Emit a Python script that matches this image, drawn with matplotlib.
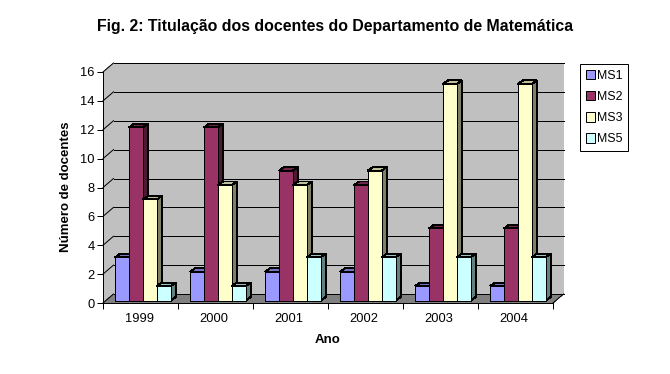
import matplotlib
matplotlib.use('Agg')
import matplotlib.pyplot as plt
from matplotlib.patches import Polygon, Patch

anos = ['1999', '2000', '2001', '2002', '2003', '2004']
ms1 = [3, 2, 2, 2, 1, 1]
ms2 = [12, 12, 9, 8, 5, 5]
ms3 = [7, 8, 8, 9, 15, 15]
ms5 = [1, 1, 3, 3, 3, 3]
series_names = ['MS1', 'MS2', 'MS3', 'MS5']
series_values = [ms1, ms2, ms3, ms5]

# front, top, side shades of each series
front_colors = ['#9999FF', '#993366', '#FFFFCC', '#CCFFFF']
top_colors = ['#7373BF', '#73264D', '#BFBF99', '#99BFBF']
side_colors = ['#666699', '#4D1A33', '#808066', '#668080']

plt.rcParams['font.family'] = ['Liberation Sans', 'DejaVu Sans']

W, H = 670, 374
LW = 0.72  # one pixel at dpi 100
fig = plt.figure(figsize=(W / 100, H / 100), dpi=100)
left, right, top, bottom = 103, 553, 72, 303
ax = fig.add_axes([left / W, 1 - bottom / H, (right - left) / W, (bottom - top) / H])
ax.set_xlim(0, 6)
ax.set_ylim(0, 16)
ax.patch.set_visible(False)

px_x = 6 / (right - left)
px_y = 16 / (bottom - top)
# wall depth and bar depth, in data units
dx, dy = 10.5 * px_x, 9 * px_y
bar_dx, bar_dy = 5 * px_x, 3.5 * px_y
lift = 2.5 * px_y
shift = 2.5 * px_x
bar_w = 13.9 * px_x


def poly(points, face, edge='black', z=1):
    ax.add_patch(Polygon(points, closed=True, facecolor=face, edgecolor=edge, linewidth=LW,
                         zorder=z, clip_on=False, antialiased=False))


def line(xs, ys, z, smooth=False):
    ax.plot(xs, ys, color='black', lw=LW, zorder=z, clip_on=False, antialiased=smooth)


# walls and floor
poly([(0, 0), (dx, dy), (dx, 16 + dy), (0, 16)], '#C0C0C0', edge='none', z=1)
poly([(dx, dy), (6 + dx, dy), (6 + dx, 16 + dy), (dx, 16 + dy)], '#C0C0C0', edge='none', z=1)
poly([(0, 0), (6, 0), (6 + dx, dy), (dx, dy)], '#808080', edge='none', z=2)
line([dx, 6 + dx], [dy, dy], 2.1)
line([0, dx], [0, dy], 2.1, smooth=True)
line([6, 6 + dx], [0, dy], 2.1, smooth=True)
# separate segments so the flat part snaps to one pixel
for v in range(2, 17, 2):
    line([0, dx], [v, v + dy], 1.5, smooth=True)
    line([dx, 6 + dx], [v + dy, v + dy], 1.5)

# bars, left to right so nearer ones cover the sides
z = 3
for i in range(len(anos)):
    x0 = i + 0.5 + shift - 2 * bar_w
    for k, vals in enumerate(series_values):
        xa = x0 + k * bar_w
        xb = xa + bar_w
        y0 = lift
        y1 = lift + vals[i]
        poly([(xb, y0), (xb + bar_dx, y0 + bar_dy), (xb + bar_dx, y1 + bar_dy), (xb, y1)],
             side_colors[k], z=z)
        poly([(xa, y1), (xb, y1), (xb + bar_dx, y1 + bar_dy), (xa + bar_dx, y1 + bar_dy)],
             top_colors[k], z=z)
        ax.bar(xa, vals[i], width=bar_w, bottom=lift, align='edge', color=front_colors[k],
               edgecolor='black', linewidth=LW, zorder=z + 0.5, clip_on=False, antialiased=False)
        z += 1

for s in ['top', 'right']:
    ax.spines[s].set_visible(False)
for s in ['left', 'bottom']:
    ax.spines[s].set_zorder(100)
    ax.spines[s].set_linewidth(LW)
ax.set_yticks(range(0, 17, 2))
ax.set_xticks(range(7))
ax.set_xticklabels([])
ax.set_xticks([i + 0.5 - 1.5 * px_x for i in range(6)], minor=True)
ax.set_xticklabels(anos, minor=True)
ax.tick_params(axis='x', which='major', length=4, width=LW, color='black')
ax.tick_params(axis='x', which='minor', length=0, labelsize=9.3, pad=7)
ax.tick_params(axis='y', length=4, width=LW, labelsize=9.3, pad=2)

fig.text(335 / W, 1 - 26 / H, 'Fig. 2: Titulação dos docentes do Departamento de Matemática',
         ha='center', va='center', fontsize=11.4, fontweight='bold')
fig.text(66 / W, 1 - 187 / H, 'Número de docentes', rotation=90, ha='center', va='center',
         fontsize=9.5, fontweight='bold')
fig.text(328 / W, 1 - 340 / H, 'Ano', ha='center', va='center', fontsize=9.5, fontweight='bold')

handles = [Patch(facecolor=c, edgecolor='black', linewidth=LW) for c in front_colors]
leg = fig.legend(handles, series_names, loc='upper left', bbox_to_anchor=(580 / W, 1 - 64 / H),
                 frameon=True, fancybox=False, framealpha=1, edgecolor='black', fontsize=8.9,
                 handlelength=0.8, handleheight=0.8, handletextpad=0.15, labelspacing=0.75,
                 borderpad=0.45, borderaxespad=0)
leg.get_frame().set_linewidth(LW)

fig.savefig('out.png', dpi=100)
